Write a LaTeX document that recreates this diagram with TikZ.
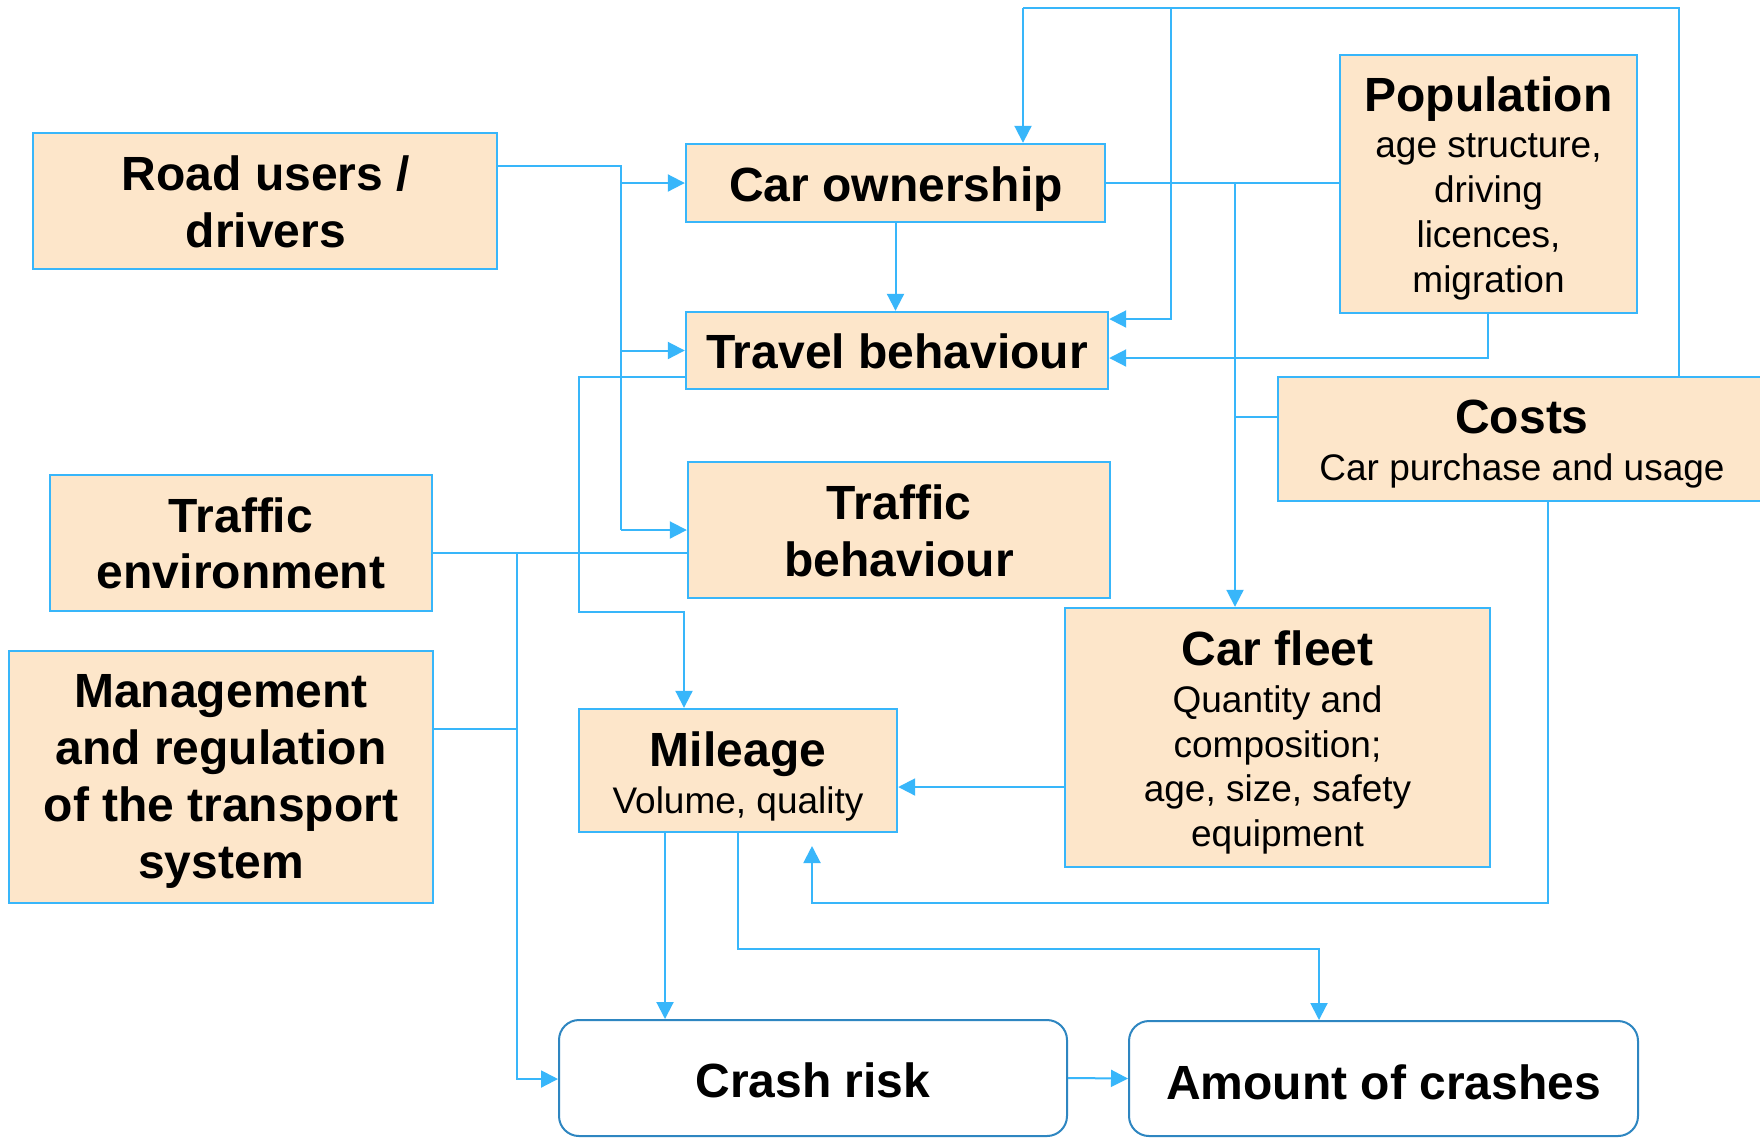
\documentclass[tikz,border=0pt]{standalone}
\usepackage{fontspec}
\setmainfont{Liberation Sans}
\usetikzlibrary{arrows.meta}
\definecolor{lineblue}{RGB}{56,182,250}
\definecolor{peach}{RGB}{253,230,202}
\definecolor{darkblue}{RGB}{46,134,193}
\newcommand{\tfont}{\fontsize{24}{29}\selectfont\bfseries}
\newcommand{\sfnt}{\fontsize{18.5}{22.5}\selectfont}
\begin{document}
\begin{tikzpicture}[x=0.5pt,y=-0.5pt,
  box/.style={draw=lineblue,fill=peach,line width=1.2pt,rectangle,inner sep=0pt},
  rbox/.style={draw=darkblue,fill=white,line width=1pt,rectangle,rounded corners=10pt,inner sep=0pt},
  ttl/.style={anchor=base,inner sep=0pt,font=\tfont},
  sub/.style={anchor=base,inner sep=0pt,font=\sfnt},
  conn/.style={draw=lineblue,line width=1pt},
  arr/.style={conn,-{Triangle[length=8.5pt,width=8.5pt]}}]
\clip (0,0) rectangle (1760,1137);
\fill[white] (0,0) rectangle (1760,1137);

% boxes
\node[box,minimum width=232pt,minimum height=68pt] (road) at (265,201) {};
\node[box,minimum width=209.5pt,minimum height=39pt] (carown) at (895.5,183) {};
\node[box,minimum width=211pt,minimum height=38.5pt] (travel) at (897,350.5) {};
\node[box,minimum width=211pt,minimum height=68pt] (trafbeh) at (899,530) {};
\node[box,minimum width=148.5pt,minimum height=129pt] (pop) at (1488.5,184) {};
\node[box,minimum width=244pt,minimum height=62pt] (costs) at (1522,439) {};
\node[box,minimum width=191pt,minimum height=68pt] (trafenv) at (241,543) {};
\node[box,minimum width=212pt,minimum height=126pt] (mgmt) at (221,777) {};
\node[box,minimum width=212.5pt,minimum height=129.5pt] (fleet) at (1277.5,737.5) {};
\node[box,minimum width=159pt,minimum height=61.5pt] (mileage) at (738,770.5) {};
\node[rbox,minimum width=254pt,minimum height=58pt] (crash) at (813,1078) {};
\node[rbox,minimum width=254.5pt,minimum height=57.5pt] (amount) at (1383.5,1078.5) {};

% texts
\node[ttl] (roadA) at (266,190) {Road users /};
\node[ttl] (roadB) at (266,247) {drivers};
\node[ttl] (carownT) at (896,201) {Car ownership};
\node[ttl] (travelT) at (897,368) {Travel behaviour};
\node[ttl] (trafbehA) at (899,519) {Traffic};
\node[ttl] (trafbehB) at (899,576) {behaviour};
\node[ttl] (popT) at (1488.5,111) {Population};
\node[sub] (popA) at (1488.5,157) {age structure,};
\node[sub] (popB) at (1488.5,202) {driving};
\node[sub] (popC) at (1488.5,247) {licences,};
\node[sub] (popD) at (1488.5,292) {migration};
\node[ttl] (costsT) at (1522,433) {Costs};
\node[sub] (costsA) at (1522,480) {Car purchase and usage};
\node[ttl] (trafenvA) at (241,532) {Traffic};
\node[ttl] (trafenvB) at (241,588) {environment};
\node[ttl] (mgmtA) at (221,707) {Management};
\node[ttl] (mgmtB) at (221,764) {and regulation};
\node[ttl] (mgmtC) at (221,821) {of the transport};
\node[ttl] (mgmtD) at (221,878) {system};
\node[ttl] (fleetT) at (1277.5,665) {Car fleet};
\node[sub] (fleetA) at (1277.5,712) {Quantity and};
\node[sub] (fleetB) at (1277.5,757) {composition;};
\node[sub] (fleetC) at (1277.5,801) {age, size, safety};
\node[sub] (fleetD) at (1277.5,846) {equipment};
\node[ttl] (mileageT) at (738,766) {Mileage};
\node[sub] (mileageA) at (738,813) {Volume, quality};
\node[ttl] (crashT) at (813,1097) {Crash risk};
\node[ttl] (amountT) at (1383.5,1099) {Amount of crashes};

% junction coordinates
\coordinate (jrTop) at (621,166);
\coordinate (jrBot) at (621,530);
\coordinate (tl) at (1023,8);
\coordinate (tm) at (1171,8);
\coordinate (tr) at (1679,8);
\coordinate (t319) at (1171,319);
\coordinate (jf) at (1235,183);
\coordinate (jc) at (1235,417);
\coordinate (pb) at (1488,358);
\coordinate (tv1) at (579,377);
\coordinate (tv2) at (579,612);
\coordinate (tv3) at (684,612);
\coordinate (te) at (517,553);
\coordinate (te2) at (517,1079);
\coordinate (mg) at (517,729);
\coordinate (fm) at (980,787);
\coordinate (cb1) at (1548,903);
\coordinate (cb2) at (812,903);
\coordinate (cbtip) at (812,846);
\coordinate (m1) at (665,900);
\coordinate (m2) at (738,949);
\coordinate (m3) at (1319,949);

% connectors
\draw[conn] (road.east |- jrTop) -- (jrTop) -- (jrBot);
\draw[arr] (jrTop |- carown.west) -- (carown.west);
\draw[arr] (jrTop |- travel.west) -- (travel.west);
\draw[arr] (jrBot) -- (trafbeh.west |- jrBot);

\draw[arr] (carown.south) -- (carown.south |- travel.north);

\draw[conn] (costs.north -| tr) -- (tr) -- (tl);
\draw[arr] (tl) -- (tl |- carown.north);
\draw[arr] (tm) -- (t319) -- (t319 -| travel.east);

\draw[conn] (jf -| carown.east) -- (jf -| pop.west);
\draw[arr] (jf) -- (jf |- fleet.north);
\draw[conn] (jc) -- (jc -| costs.west);

\draw[arr] (pop.south -| pb) -- (pb) -- (pb -| travel.east);

\draw[arr] (tv1 -| travel.west) -- (tv1) -- (tv2) -- (tv3) -- (tv3 |- mileage.north);

\draw[conn] (te -| trafenv.east) -- (te -| trafbeh.west);
\draw[arr] (te) -- (te2) -- (te2 -| crash.west);
\draw[conn] (mg -| mgmt.east) -- (mg);

\draw[arr] (fm -| fleet.west) -- (fm -| mileage.east);

\draw[arr] (costs.south -| cb1) -- (cb1) -- (cb2) -- (cbtip);

\draw[arr] (mileage.south -| m1) -- (m1 |- crash.north);
\draw[arr] (mileage.south -| m2) -- (m2) -- (m3) -- (m3 |- amount.north);

\draw[arr] (crash.east) -- (amount.west);
\end{tikzpicture}
\end{document}
